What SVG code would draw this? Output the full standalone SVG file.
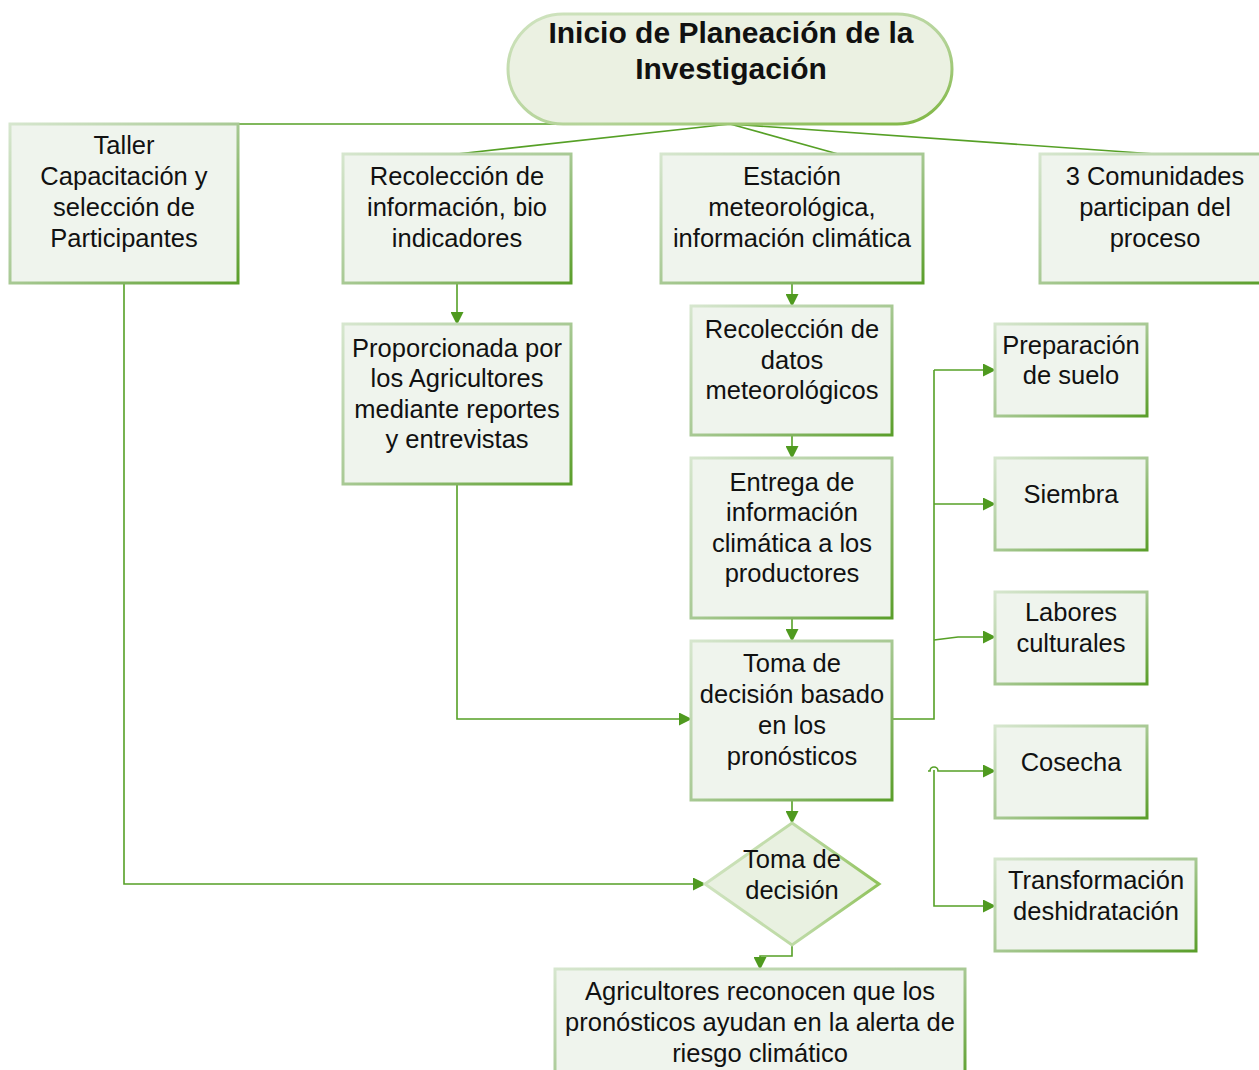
<svg xmlns="http://www.w3.org/2000/svg" width="1259" height="1070" viewBox="0 0 1259 1070">
<defs>
<linearGradient id="bs" x1="0" y1="0" x2="1" y2="1">
<stop offset="0" stop-color="#d6e6ce"/>
<stop offset="0.5" stop-color="#a8c994"/>
<stop offset="1" stop-color="#5a9e2a"/>
</linearGradient>
<linearGradient id="os" x1="0" y1="0" x2="1" y2="1">
<stop offset="0" stop-color="#cfe3bf"/>
<stop offset="0.6" stop-color="#b4d398"/>
<stop offset="1" stop-color="#7cb53e"/>
</linearGradient>
<linearGradient id="ds" x1="0" y1="0" x2="1" y2="0">
<stop offset="0" stop-color="#cfe3bf"/>
<stop offset="0.6" stop-color="#b9d89e"/>
<stop offset="1" stop-color="#8fc25a"/>
</linearGradient>
<marker id="ar" markerWidth="13" markerHeight="13" refX="12" refY="6.5" orient="auto" markerUnits="userSpaceOnUse">
<path d="M0,0 L13,6.5 L0,13 Z" fill="#4f9a1f"/>
</marker>
</defs>
<style>
.box{fill:#eff4ed;stroke:url(#bs);stroke-width:3}
.t{font-family:"Liberation Sans",Arial,sans-serif;font-size:25.5px;fill:#111;text-anchor:middle}
.tb{font-family:"Liberation Sans",Arial,sans-serif;font-size:30px;font-weight:bold;fill:#111;text-anchor:middle}
.c{fill:none;stroke:#56a026;stroke-width:1.6}
.ca{fill:none;stroke:#56a026;stroke-width:1.6;marker-end:url(#ar)}
</style>
<rect width="1259" height="1070" fill="#ffffff"/>

<g id="connectors">
<path class="c" d="M124,124 H730"/>
<path class="c" d="M730,124 L457,154"/>
<path class="c" d="M730,124 L838,154"/>
<path class="c" d="M730,124 L1155,154"/>
<path class="ca" d="M457,283 V324"/>
<path class="ca" d="M792,283 V306"/>
<path class="ca" d="M792,435 V458"/>
<path class="ca" d="M792,618 V641"/>
<path class="ca" d="M792,800 V823"/>
<path class="ca" d="M792,945 V956 H760 V969"/>
<path class="ca" d="M457,484 V719 H691"/>
<path class="ca" d="M124,283 V884 H705"/>
<path class="c" d="M892,719 H934 V370"/>
<path class="ca" d="M934,370 H995"/>
<path class="ca" d="M934,504 H995"/>
<path class="ca" d="M934,640 L958,637 H995"/>
<path class="ca" d="M928,771 H930 A4,4 0 0 1 938,771 H995"/>
<path class="ca" d="M934,770 V906 H995"/>
</g>

<g id="inicio">
<rect x="508" y="14" width="444" height="110" rx="55" ry="55" fill="#ebf1e2" stroke="url(#os)" stroke-width="3"/>
<text class="tb" x="731" y="43">Inicio de Planeación de la</text>
<text class="tb" x="731" y="79">Investigación</text>
</g>

<g id="taller">
<rect class="box" x="10" y="124" width="228" height="159"/>
<text class="t" x="124" y="154">Taller</text>
<text class="t" x="124" y="185">Capacitación y</text>
<text class="t" x="124" y="216">selección de</text>
<text class="t" x="124" y="247">Participantes</text>
</g>

<g id="recoleccion-info">
<rect class="box" x="343" y="154" width="228" height="129"/>
<text class="t" x="457" y="185">Recolección de</text>
<text class="t" x="457" y="216">información, bio</text>
<text class="t" x="457" y="247">indicadores</text>
</g>

<g id="estacion">
<rect class="box" x="661" y="154" width="262" height="129"/>
<text class="t" x="792" y="185">Estación</text>
<text class="t" x="792" y="216">meteorológica,</text>
<text class="t" x="792" y="247">información climática</text>
</g>

<g id="comunidades">
<rect class="box" x="1040" y="154" width="225" height="129"/>
<text class="t" x="1155" y="185">3 Comunidades</text>
<text class="t" x="1155" y="216">participan del</text>
<text class="t" x="1155" y="247">proceso</text>
</g>

<g id="proporcionada">
<rect class="box" x="343" y="324" width="228" height="160"/>
<text class="t" x="457" y="357">Proporcionada por</text>
<text class="t" x="457" y="387">los Agricultores</text>
<text class="t" x="457" y="418">mediante reportes</text>
<text class="t" x="457" y="448">y entrevistas</text>
</g>

<g id="recoleccion-datos">
<rect class="box" x="691" y="306" width="201" height="129"/>
<text class="t" x="792" y="338">Recolección de</text>
<text class="t" x="792" y="369">datos</text>
<text class="t" x="792" y="399">meteorológicos</text>
</g>

<g id="entrega">
<rect class="box" x="691" y="458" width="201" height="160"/>
<text class="t" x="792" y="491">Entrega de</text>
<text class="t" x="792" y="521">información</text>
<text class="t" x="792" y="552">climática a los</text>
<text class="t" x="792" y="582">productores</text>
</g>

<g id="toma-basado">
<rect class="box" x="691" y="641" width="201" height="159"/>
<text class="t" x="792" y="672">Toma de</text>
<text class="t" x="792" y="703">decisión basado</text>
<text class="t" x="792" y="734">en los</text>
<text class="t" x="792" y="765">pronósticos</text>
</g>

<g id="toma-decision">
<polygon points="792,823 879,884 792,945 705,884" fill="#e9f1e1" stroke="url(#ds)" stroke-width="3"/>
<text class="t" x="792" y="868">Toma de</text>
<text class="t" x="792" y="899">decisión</text>
</g>

<g id="agricultores">
<rect class="box" x="555" y="969" width="410" height="115"/>
<text class="t" x="760" y="1000">Agricultores reconocen que los</text>
<text class="t" x="760" y="1031">pronósticos ayudan en la alerta de</text>
<text class="t" x="760" y="1062">riesgo climático</text>
</g>

<g id="preparacion">
<rect class="box" x="995" y="324" width="152" height="92"/>
<text class="t" x="1071" y="354">Preparación</text>
<text class="t" x="1071" y="384">de suelo</text>
</g>

<g id="siembra">
<rect class="box" x="995" y="458" width="152" height="92"/>
<text class="t" x="1071" y="503">Siembra</text>
</g>

<g id="labores">
<rect class="box" x="995" y="592" width="152" height="92"/>
<text class="t" x="1071" y="621">Labores</text>
<text class="t" x="1071" y="652">culturales</text>
</g>

<g id="cosecha">
<rect class="box" x="995" y="726" width="152" height="92"/>
<text class="t" x="1071" y="771">Cosecha</text>
</g>

<g id="transformacion">
<rect class="box" x="995" y="859" width="201" height="92"/>
<text class="t" x="1096" y="889">Transformación</text>
<text class="t" x="1096" y="920">deshidratación</text>
</g>
</svg>
